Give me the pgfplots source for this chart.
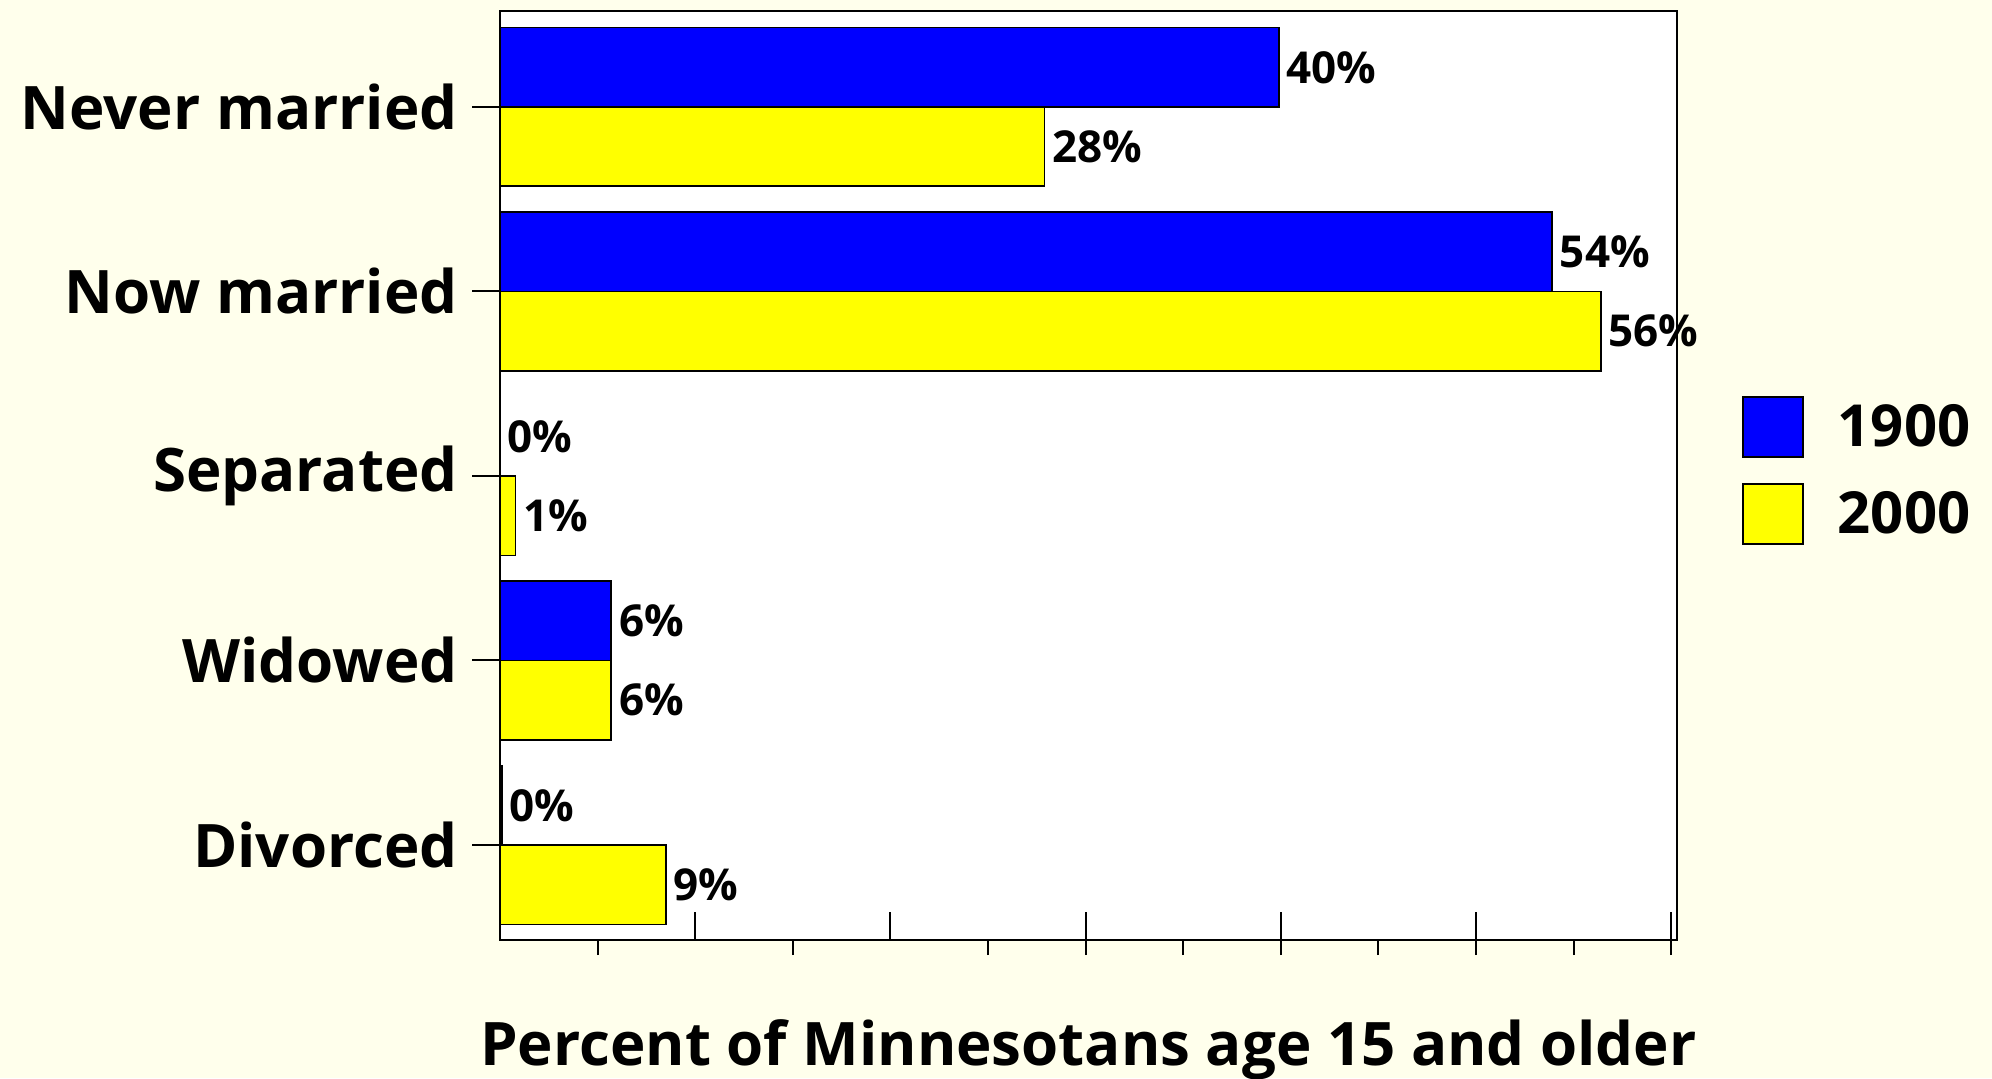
\documentclass[border=0pt]{standalone}
\usepackage{fontspec}
\setmainfont{Open Sans}
\usepackage{pgfplots}
\pgfplotsset{compat=1.18}
\definecolor{bgcream}{RGB}{255,255,236}
\definecolor{barblue}{RGB}{0,0,255}
\definecolor{baryellow}{RGB}{255,255,0}
\begin{document}
\begin{tikzpicture}
\fill[bgcream] (0,0) rectangle (996pt,539pt);
\useasboundingbox (0,0) rectangle (996pt,539pt);
\begin{axis}[
  at={(250pt,533.5pt)}, anchor=north west,
  scale only axis, width=588.5pt, height=464.5pt,
  xmin=0, xmax=60.3, ymin=-0.52, ymax=4.515, y dir=reverse,
  axis background/.style={fill=white},
  axis line style={black, line width=1pt},
  clip=false,
  xbar, bar width=0.43,
  ytick={0,1,2,3,4},
  yticklabels={Never married, Now married, Separated, Widowed, Divorced},
  yticklabel style={font=\fontsize{30}{30}\selectfont\bfseries, inner sep=1pt, xshift=-6pt},
  ytick pos=left, ytick align=outside,
  xtick={10,20,30,40,50,60}, xticklabels={}, xtick align=inside, xtick pos=lower,
  extra x ticks={5,15,25,30,35,40,45,50,55,60}, extra x tick labels={},
  extra x tick style={tick align=outside, major tick length=7.5pt},
  major tick length=14pt,
  tick style={black, line width=1pt},
  xlabel={Percent of Minnesotans age 15 and older},
  xlabel style={font=\fontsize{30}{30}\selectfont\bfseries, at={(axis description cs:0.5,0)}, anchor=center, yshift=-55pt},
  point meta=explicit symbolic,
  nodes near coords,
  nodes near coords align={horizontal},
  nodes near coords style={font=\fontsize{22}{22}\selectfont\bfseries, text=black, inner sep=3.5pt, anchor=west},
  legend style={at={(1.05,0.59)}, anchor=north west, draw=none, fill=none,
    font=\fontsize{29}{29}\selectfont\bfseries, row sep=12.5pt},
  legend cell align=left,
  legend image code/.code={\draw[#1,/tikz/.cd,draw=black,line width=0.8pt] (0pt,-15pt) rectangle (30pt,15pt); \path (45pt,0pt);},
]
\addplot[fill=barblue, draw=black, line width=0.8pt, bar shift=-0.215]
  coordinates {(39.9,0)[40\%] (53.9,1)[54\%] (0,2)[0\%] (5.7,3)[6\%] (0.1,4)[0\%]};
\addplot[fill=baryellow, draw=black, line width=0.8pt, bar shift=0.215]
  coordinates {(27.9,0)[28\%] (56.4,1)[56\%] (0.8,2)[1\%] (5.7,3)[6\%] (8.5,4)[9\%]};
\legend{1900, 2000}
\end{axis}
\end{tikzpicture}
\end{document}
